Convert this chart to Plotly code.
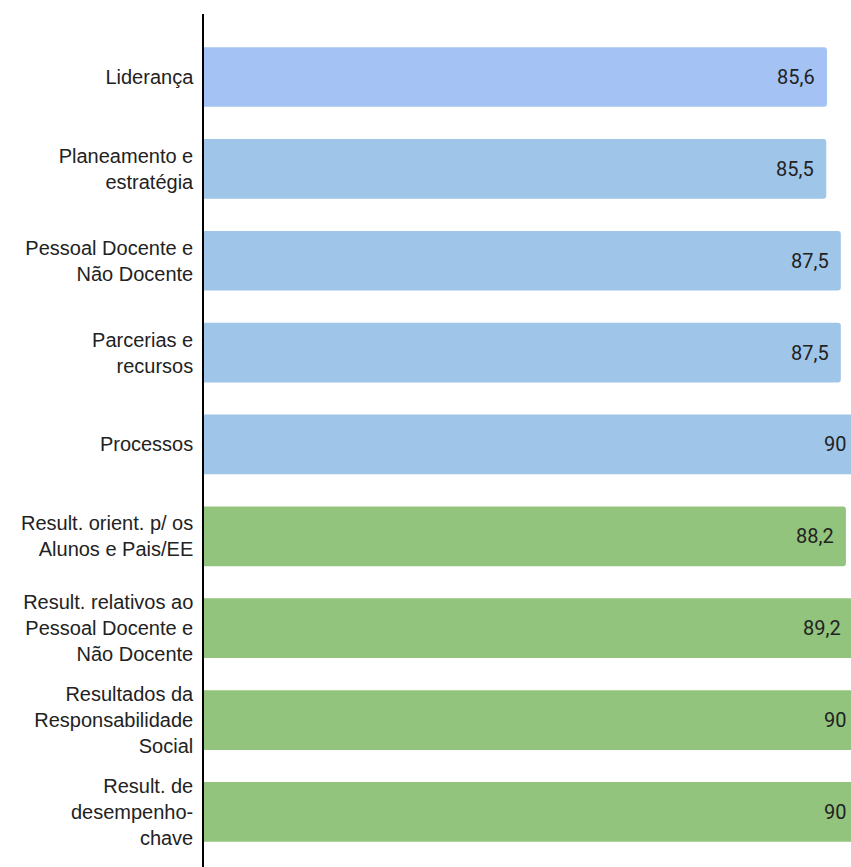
import plotly.graph_objects as go

categories = [
    "Liderança",
    "Planeamento e<br>estratégia",
    "Pessoal Docente e<br>Não Docente",
    "Parcerias e<br>recursos",
    "Processos",
    "Result. orient. p/ os<br>Alunos e Pais/EE",
    "Result. relativos ao<br>Pessoal Docente e<br>Não Docente",
    "Resultados da<br>Responsabilidade<br>Social",
    "Result. de<br>desempenho-<br>chave",
]
values = [85.6, 85.5, 87.5, 87.5, 90, 88.2, 89.2, 90, 90]
bar_colors = ["#a4c2f4", "#9fc5e8", "#9fc5e8", "#9fc5e8", "#9fc5e8",
              "#93c47d", "#93c47d", "#93c47d", "#93c47d"]

W, H = 851, 867
ML, MR, MT, MB = 204, 0, 14, 0
XMAX = 88.9
PX = (W - ML - MR) / XMAX  # pixels per unit


def fmt(v):
    s = ("%.1f" % v).rstrip("0").rstrip(".")
    return s.replace(".", ",")


fig = go.Figure(go.Bar(
    x=values,
    y=categories,
    orientation="h",
    marker=dict(color=bar_colors, line=dict(width=0), cornerradius=3),
    width=0.65,
    cliponaxis=True,
    hoverinfo="skip",
))

# value labels, kept inside the visible plot area like the original
for cat, v in zip(categories, values):
    xa = min(v, XMAX)
    shift = -10 + min((v - xa) * PX, 7)
    fig.add_annotation(
        x=xa, y=cat, xref="x", yref="y",
        text=fmt(v), showarrow=False,
        xanchor="right", yanchor="middle", xshift=shift,
        font=dict(family="Roboto", size=20, color="#222222"),
    )

fig.update_layout(
    width=W,
    height=H,
    margin=dict(l=ML, r=MR, t=MT, b=MB),
    paper_bgcolor="white",
    plot_bgcolor="white",
    showlegend=False,
)
fig.update_xaxes(range=[0, XMAX], visible=False, showgrid=False, zeroline=False)
fig.update_yaxes(
    type="category",
    range=[8.6, -0.686],
    showline=True,
    linecolor="#000000",
    linewidth=1.5,
    showgrid=False,
    zeroline=False,
    ticks="",
    ticklabelstandoff=5,
    tickfont=dict(family="Liberation Sans", size=20, color="#222222"),
)

fig.write_html(
    "out.html",
    config={"displayModeBar": False},
    post_script="document.body.style.margin='0';document.body.style.overflow='hidden';",
)
